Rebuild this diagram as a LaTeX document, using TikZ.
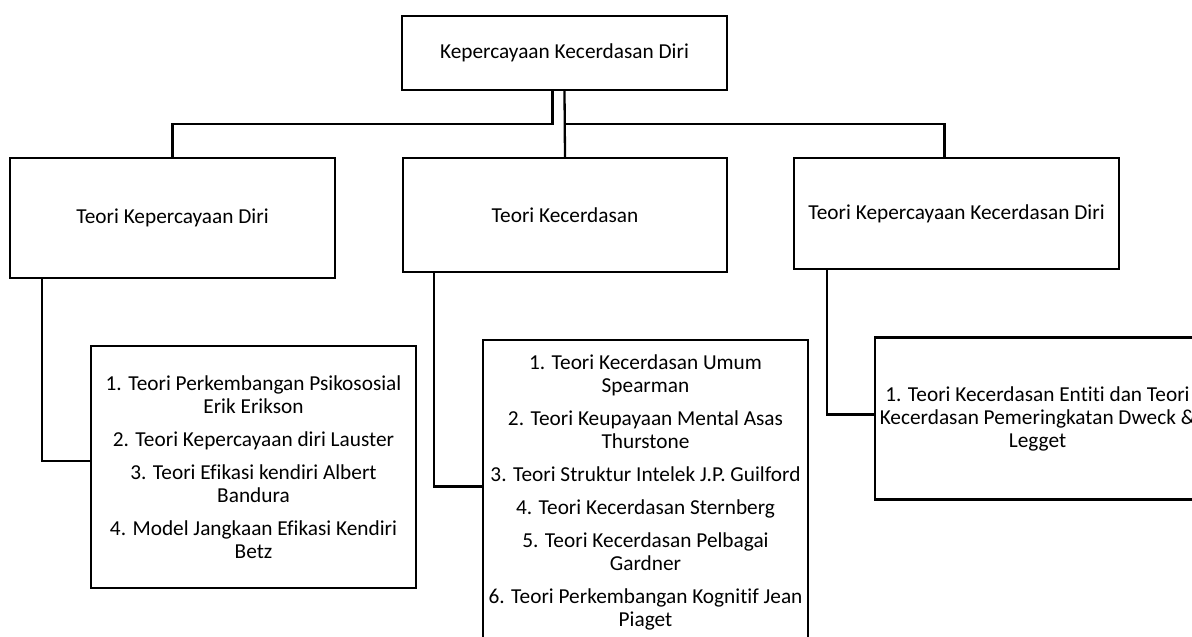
\documentclass[tikz,border=0pt]{standalone}
\usepackage{fontspec}
\setmainfont{Carlito}[Ligatures={NoCommon}]
\tikzset{
  box/.style={draw, line width=2.3pt, inner sep=0pt, align=center},
  txt/.style={inner sep=0pt, align=center},
  link/.style={line width=2.3pt}
}
\begin{document}
\begin{tikzpicture}[x=1pt, y=-1pt, font=\fontsize{21.3}{23}\selectfont]
      \useasboundingbox[clip] (0,0) rectangle (1192,637);
      \node[box, minimum width=325, minimum height=74] (kkd) at (564.5,53) {Kepercayaan Kecerdasan Diri};
      \node[box, minimum width=325, minimum height=120] (tkd) at (172.5,218) {Teori Kepercayaan Diri};
      \node[box, minimum width=324, minimum height=114] (tk) at (565,215) {Teori Kecerdasan};
      \node[box, minimum width=325, minimum height=111] (tkkd) at (956.5,213.5) {Teori Kepercayaan Kecerdasan Diri};
      \node[box, minimum width=325, minimum height=242] (tkd1) at (253.5,467) {};
      \node[box, minimum width=325, minimum height=305] (tk1) at (645.5,492.5) {};
      \node[box, minimum width=325, minimum height=162] (tkkd1) at (1037.5,418.5) {};
      \node[txt] (tkd1t) at (tkd1) {1. Teori Perkembangan Psikososial\\Erik Erikson\\[10pt]
        2. Teori Kepercayaan diri Lauster\\[10pt]
        3. Teori Efikasi kendiri Albert\\Bandura\\[10pt]
        4. Model Jangkaan Efikasi Kendiri\\Betz};
      \node[txt] (tk1t) at (tk1) {1. Teori Kecerdasan Umum\\Spearman\\[10pt]
        2. Teori Keupayaan Mental Asas\\Thurstone\\[10pt]
        3. Teori Struktur Intelek J.P. Guilford\\[10pt]
        4. Teori Kecerdasan Sternberg\\[10pt]
        5. Teori Kecerdasan Pelbagai\\Gardner\\[10pt]
        6. Teori Perkembangan Kognitif Jean\\Piaget};
      \node[txt] (tkkd1t) at (tkkd1) {1. Teori Kecerdasan Entiti dan Teori\\Kecerdasan Pemeringkatan Dweck \&\\Legget};
      \draw[link] ([xshift=-12pt]kkd.south) -- ++(0,33) -| (tkd.north);
      \draw[link] (kkd.south) -- (tk.north);
      \draw[link] (kkd.south) ++(0,33) -| ([xshift=-12pt]tkkd.north);
      \draw[link] ([xshift=33pt]tkd.south west) |- ([yshift=6pt]tkd1.west);
      \draw[link] ([xshift=32pt]tk.south west) |- ([yshift=6pt]tk1.west);
      \draw[link] ([xshift=34pt]tkkd.south west) |- ([yshift=4pt]tkkd1.west);
\end{tikzpicture}
\end{document}
